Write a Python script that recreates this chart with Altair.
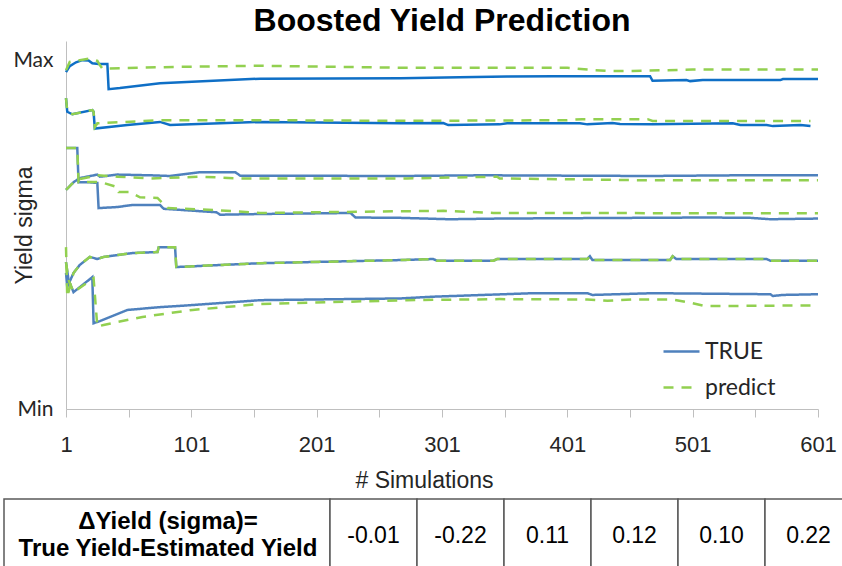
import altair as alt
import pandas as pd

# Yield traces: Min = 0, Max = 100 on the sigma axis, x = number of simulations
A_TRUE_SIM = [1, 4, 9, 14, 19, 22, 27, 34, 35, 44, 76, 156, 268, 315, 353, 390, 467, 469, 496, 499, 509, 571, 573, 601]
A_TRUE_VAL = [96.6, 98.3, 99.4, 100.0, 99.9, 99.1, 98.9, 98.9, 91.7, 92.0, 93.4, 94.7, 94.8, 95.1, 95.3, 95.4, 95.4, 94.1, 94.3, 94.0, 94.3, 94.3, 94.6, 94.6]
A_PRED_SIM = [1, 4, 12, 20, 26, 28, 30, 92, 156, 273, 401, 417, 433, 453, 501, 601]
A_PRED_VAL = [97.1, 99.5, 100.0, 100.5, 99.8, 98.6, 97.6, 98.1, 98.4, 97.8, 97.8, 97.3, 96.9, 96.9, 97.3, 97.3]

B_TRUE_SIM = [1, 2, 6, 22, 23, 24, 50, 76, 84, 156, 268, 302, 306, 347, 353, 411, 417, 437, 443, 469, 533, 539, 560, 565, 587, 595]
B_TRUE_VAL = [89.1, 85.2, 84.5, 85.7, 85.2, 80.4, 81.4, 82.3, 81.4, 82.3, 81.9, 82.0, 81.4, 81.6, 81.9, 81.9, 81.6, 82.0, 81.7, 81.6, 81.9, 81.4, 81.4, 81.1, 81.4, 81.1]
B_PRED_SIM = [1, 2, 6, 22, 23, 24, 26, 76, 156, 273, 401, 413, 465, 469, 595]
B_PRED_VAL = [89.1, 85.2, 84.5, 85.7, 85.2, 80.8, 81.9, 82.8, 82.8, 82.6, 82.8, 83.1, 83.1, 82.6, 82.6]

C_TRUE_SIM = [1, 7, 12, 26, 28, 42, 68, 84, 108, 136, 140, 268, 334, 465, 539, 601]
C_TRUE_VAL = [62.8, 65.0, 66.2, 67.2, 66.6, 67.2, 67.0, 66.8, 67.9, 67.9, 66.9, 66.8, 67.0, 66.8, 67.0, 67.0]
C_PRED_SIM = [1, 7, 12, 26, 42, 68, 108, 140, 273, 345, 347, 459, 601]
C_PRED_VAL = [62.8, 65.0, 65.9, 67.0, 66.6, 66.1, 66.6, 66.1, 66.1, 66.6, 66.1, 65.6, 65.6]

D_TRUE_SIM = [1, 10, 11, 20, 26, 27, 42, 54, 76, 79, 121, 124, 156, 228, 232, 268, 307, 347, 512, 547, 563, 601]
D_TRUE_VAL = [74.8, 74.8, 65.0, 65.0, 64.8, 57.6, 57.9, 58.5, 58.5, 57.4, 56.4, 55.7, 55.9, 56.2, 54.9, 54.8, 54.4, 54.6, 54.9, 54.8, 54.4, 54.6]
D_PRED_SIM = [1, 10, 11, 26, 31, 42, 43, 52, 60, 74, 82, 121, 156, 268, 302, 342, 601]
D_PRED_VAL = [74.8, 74.8, 65.0, 65.1, 64.8, 63.6, 62.2, 62.2, 60.7, 60.5, 57.6, 57.0, 56.2, 56.7, 56.8, 56.2, 56.1]

E_TRUE_SIM = [1, 2, 7, 12, 20, 26, 31, 54, 74, 75, 88, 89, 156, 268, 294, 297, 342, 345, 417, 419, 421, 483, 485, 488, 560, 563, 601]
E_TRUE_VAL = [39.0, 35.0, 39.0, 41.3, 43.6, 43.0, 43.6, 44.7, 45.0, 46.4, 46.4, 40.7, 41.8, 42.7, 43.0, 42.5, 42.5, 43.0, 43.0, 43.8, 42.7, 42.7, 43.8, 43.0, 43.0, 42.5, 42.5]
E_PRED_SIM = [1, 2, 7, 12, 20, 26, 31, 54, 74, 75, 88, 89, 156, 268, 294, 297, 342, 345, 417, 419, 421, 483, 485, 488, 560, 563, 601]
E_PRED_VAL = [46.4, 32.1, 39.0, 41.3, 43.6, 43.0, 43.6, 44.7, 45.0, 46.4, 46.4, 40.7, 41.8, 42.7, 43.0, 42.5, 42.5, 43.0, 43.0, 43.8, 42.7, 42.7, 43.8, 43.0, 43.0, 42.5, 42.5]

F_TRUE_SIM = [1, 3, 7, 22, 23, 28, 50, 76, 102, 156, 268, 294, 334, 374, 417, 421, 469, 563, 565, 573, 601]
F_TRUE_VAL = [42.1, 37.0, 33.5, 37.8, 24.6, 25.2, 28.4, 29.2, 29.8, 31.2, 31.7, 32.2, 32.7, 33.2, 33.2, 32.7, 33.2, 32.9, 32.4, 32.7, 32.9]
F_PRED_SIM = [1, 3, 7, 23, 26, 31, 62, 102, 156, 273, 347, 417, 433, 453, 485, 501, 511, 601]
F_PRED_VAL = [42.1, 37.0, 33.5, 37.5, 23.6, 24.1, 26.4, 28.4, 30.1, 31.2, 31.5, 31.4, 31.0, 31.4, 31.4, 30.3, 29.5, 29.7]

KINDS = ["TRUE", "predict"]
X_TICKS = [1, 51, 101, 151, 201, 251, 301, 351, 401, 451, 501, 551, 601]

# Delta table under the chart
TABLE_HEADER = "\u0394Yield (sigma)=\nTrue Yield-Estimated Yield"
TABLE_VALUES = [-0.01, -0.22, 0.11, 0.12, 0.10, 0.22]

DARK_BLUE = "#0f6fc6"
LIGHT_BLUE = "#4f81bd"
GREEN = "#92d050"
GRID_GREY = "#bfbfbf"
INK = "#262626"

series = [
    ("A", "TRUE", A_TRUE_SIM, A_TRUE_VAL), ("A", "predict", A_PRED_SIM, A_PRED_VAL),
    ("B", "TRUE", B_TRUE_SIM, B_TRUE_VAL), ("B", "predict", B_PRED_SIM, B_PRED_VAL),
    ("C", "TRUE", C_TRUE_SIM, C_TRUE_VAL), ("C", "predict", C_PRED_SIM, C_PRED_VAL),
    ("D", "TRUE", D_TRUE_SIM, D_TRUE_VAL), ("D", "predict", D_PRED_SIM, D_PRED_VAL),
    ("E", "TRUE", E_TRUE_SIM, E_TRUE_VAL), ("E", "predict", E_PRED_SIM, E_PRED_VAL),
    ("F", "TRUE", F_TRUE_SIM, F_TRUE_VAL), ("F", "predict", F_PRED_SIM, F_PRED_VAL),
]
rows = []
for design, kind, sims, vals in series:
    for step, (s, v) in enumerate(zip(sims, vals)):
        rows.append({"design": design, "kind": kind, "sim": s, "sigma": v, "step": step})
traces = pd.DataFrame(rows)

x_enc = alt.X(
    "sim:Q",
    scale=alt.Scale(domain=[1, 601], nice=False, zero=False),
    title="# Simulations",
    axis=alt.Axis(
        values=X_TICKS,
        labelExpr="(datum.value - 1) % 100 == 0 ? datum.label : ''",
        labelFlush=False, labelOverlap=False,
        labelFont="Liberation Sans", labelFontSize=22, labelColor=INK, labelPadding=17,
        tickSize=8, tickColor=GRID_GREY, tickWidth=1,
        domainColor=GRID_GREY, domainWidth=1, grid=False,
        titleFont="Liberation Sans", titleFontSize=23, titleFontWeight="normal", titleColor=INK,
        titleX=358, titleY=71, titleAlign="center", titleBaseline="middle",
    ),
)
y_enc = alt.Y(
    "sigma:Q",
    scale=alt.Scale(domain=[0, 105.5], nice=False, zero=False),
    title="Yield sigma",
    axis=alt.Axis(
        values=[0, 100],
        labelExpr="datum.value == 0 ? 'Min' : 'Max'",
        ticks=False, labelPadding=13,
        labelFont="Lato", labelFontSize=21, labelColor=INK,
        domainColor=GRID_GREY, domainWidth=1, grid=False,
        titleFont="Liberation Sans", titleFontSize=23, titleFontWeight="normal", titleColor=INK,
        titleX=-42, titleY=184, titleAngle=270, titleAlign="center", titleBaseline="middle",
    ),
)

legend = alt.Legend(
    title=None, orient="none", legendX=596, legendY=291, padding=0,
    symbolType="stroke", symbolSize=1296, symbolStrokeWidth=2.5,
    labelFont="Lato", labelFontSize=23, labelColor=INK, labelOffset=4, rowPadding=4,
)
kind_color = alt.Color("kind:N", scale=alt.Scale(domain=KINDS, range=[LIGHT_BLUE, GREEN]), legend=legend)
kind_dash = alt.StrokeDash("kind:N", scale=alt.Scale(domain=KINDS, range=[[1, 0], [10, 8]]), legend=legend)

base = alt.Chart(traces)
true_light = base.transform_filter(
    "datum.kind == 'TRUE' && datum.design != 'A' && datum.design != 'B'"
).mark_line(strokeWidth=2.5).encode(
    x=x_enc, y=y_enc, color=kind_color, strokeDash=kind_dash,
    detail="design:N", order="step:Q",
)
true_dark = base.transform_filter(
    "datum.kind == 'TRUE' && (datum.design == 'A' || datum.design == 'B')"
).mark_line(strokeWidth=2.5, color=DARK_BLUE).encode(
    x=x_enc, y=y_enc, detail="design:N", order="step:Q",
)
predicted = base.transform_filter("datum.kind == 'predict'").mark_line(strokeWidth=2.5).encode(
    x=x_enc, y=y_enc, color=kind_color, strokeDash=kind_dash,
    detail="design:N", order="step:Q",
)
lines = alt.layer(true_light, true_dark, predicted)

# Table row: header cell plus one cell per design
cells = pd.DataFrame({
    "design": ["A", "B", "C", "D", "E", "F"],
    "delta": TABLE_VALUES,
    "label": [f"{v:.2f}" for v in TABLE_VALUES],
})
col_scale = alt.Scale(domain=list(cells["design"]), range=[264, 786], paddingInner=0, paddingOuter=0)
cell_x = alt.X("design:N", scale=col_scale, axis=None)
cell_boxes = alt.Chart(cells).mark_rect(fill="white", stroke="#595959", strokeWidth=1.5).encode(
    x=cell_x, y=alt.value(458), y2=alt.value(560)
)
cell_text = alt.Chart(cells).mark_text(
    font="Liberation Sans", fontSize=23, color="black", baseline="middle"
).encode(x=cell_x, y=alt.value(495), text="label:N")

header = pd.DataFrame({"text": [TABLE_HEADER]})
header_box = alt.Chart(header).mark_rect(fill="white", stroke="#595959", strokeWidth=1.5).encode(
    x=alt.value(-62), x2=alt.value(264), y=alt.value(458), y2=alt.value(560)
)
header_text = alt.Chart(header).mark_text(
    font="Liberation Sans", fontSize=24, fontWeight="bold", color="black",
    lineBreak="\n", lineHeight=27, baseline="middle", align="center",
).encode(x=alt.value(102), y=alt.value(481), text="text:N")

table = alt.layer(header_box, header_text, cell_boxes, cell_text)

chart = alt.layer(lines, table).resolve_scale(x="independent").properties(
    width=752, height=368,
    title=alt.TitleParams(
        "Boosted Yield Prediction", font="Liberation Sans", fontSize=32, fontWeight="bold",
        color="black", anchor="middle", frame="group", offset=10, baseline="alphabetic", dy=32,
    ),
    autosize=alt.AutoSizeParams(type="none"),
    padding={"left": 66, "top": 41, "right": 24, "bottom": 157},
    background="white",
).configure_view(stroke="transparent")

chart.save("out.html", embed_options={"renderer": "svg", "actions": False})
